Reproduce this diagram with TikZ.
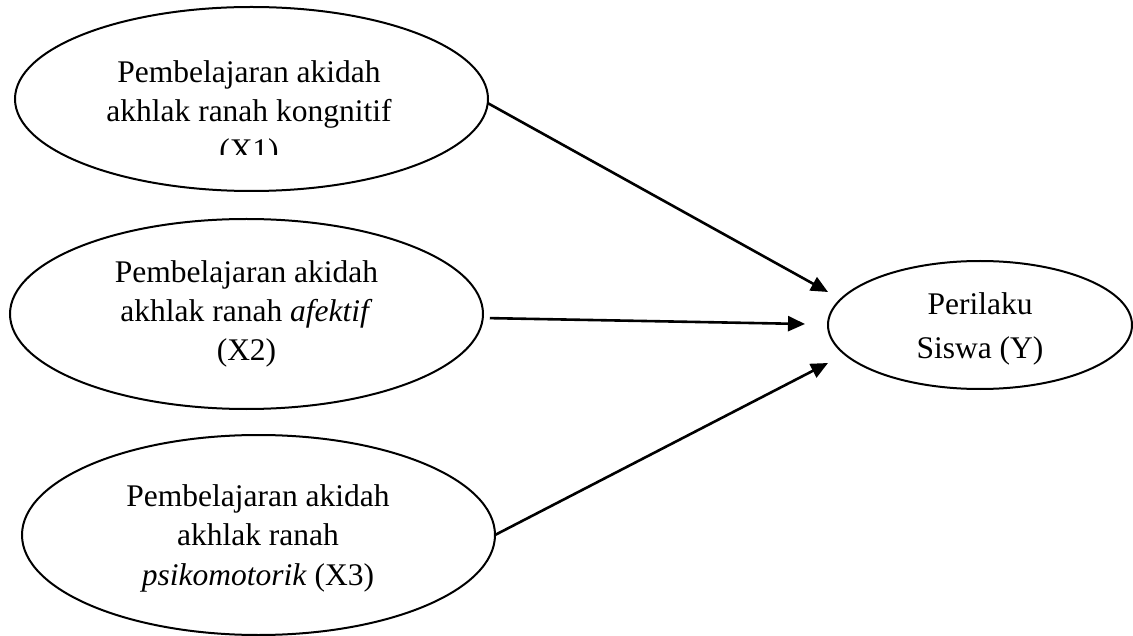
\documentclass[tikz,border=0pt]{standalone}
\usepackage{fontspec}
\setmainfont{Liberation Serif}
\usetikzlibrary{shapes.geometric,arrows.meta}
\begin{document}
\begin{tikzpicture}[x=1pt,y=-1pt,
  oval/.style={draw=black,line width=2pt,ellipse,inner sep=0pt,outer sep=0pt},
  lbl/.style={align=center,anchor=base,inner sep=0pt,font=\fontsize{31.5}{39.4}\selectfont},
  conn/.style={line width=2.6pt,-{Triangle[length=17pt,width=15pt]}}]
\useasboundingbox (0,0) rectangle (1133,636);
% ellipses
\node[oval,minimum width=473pt,minimum height=184pt] (x1) at (251.5,99) {};
\node[oval,minimum width=473pt,minimum height=190pt] (x2) at (246.5,314) {};
\node[oval,minimum width=473pt,minimum height=200pt] (x3) at (258.5,535) {};
\node[oval,minimum width=304pt,minimum height=128pt] (y) at (980,325) {};
% texts (anchor base = last line's baseline)
\begin{scope}
\clip (0,0) rectangle (1133,155);
\node[lbl] (x1t) at (249,161) {Pembelajaran akidah\\akhlak ranah kongnitif\\(X1)};
\end{scope}
\node[lbl] (x2t) at (246.5,361) {Pembelajaran akidah\\akhlak ranah \textit{afektif}\\(X2)};
\node[lbl] (x3t) at (258,585) {Pembelajaran akidah\\akhlak ranah\\\textit{psikomotorik} (X3)};
\node[lbl,font=\fontsize{31.5}{44}\selectfont] (yt) at (980,359) {Perilaku\\Siswa (Y)};
% connectors
\coordinate (t1) at (828,292);
\coordinate (t2) at (805,324);
\coordinate (t3) at (828,363);
\draw[conn] (x1.-1) -- (t1);
\draw[conn] ([xshift=7pt]x2.-1) -- (t2);
\draw[conn] (x3.east) -- (t3);
\end{tikzpicture}
\end{document}
